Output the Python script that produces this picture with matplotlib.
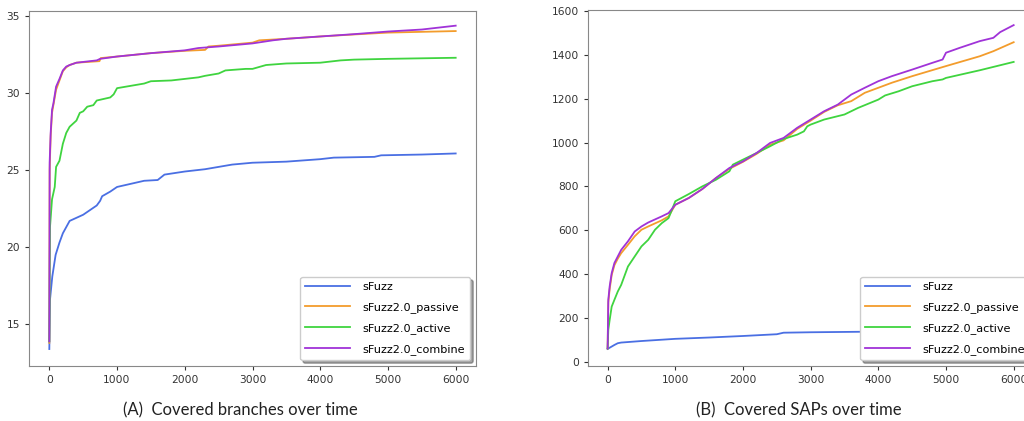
import matplotlib
matplotlib.use("Agg")
import matplotlib.pyplot as plt

# ── Data: (A) covered branches ────────────────────────────────────────────────
br_x_fuzz = [0, 10, 44, 93, 150, 200, 250, 300, 400, 500, 600, 700, 750, 780, 900,
             1000, 1200, 1400, 1600, 1700, 2000, 2300, 2500, 2700, 3000, 3500, 4000,
             4200, 4800, 4900, 5500, 6000]
br_y_fuzz = [13.4, 16.6, 18.1, 19.5, 20.3, 20.9, 21.3, 21.7, 21.9, 22.1, 22.4, 22.7,
             23.0, 23.3, 23.6, 23.9, 24.1, 24.3, 24.35, 24.7, 24.9, 25.05, 25.2, 25.35,
             25.47, 25.54, 25.7, 25.8, 25.85, 25.95, 26.0, 26.07]

br_x_active = [0, 10, 40, 80, 100, 150, 200, 250, 300, 350, 400, 450, 500, 560, 650,
               700, 800, 900, 950, 1000, 1200, 1400, 1500, 1800, 2000, 2200, 2300, 2500,
               2600, 2900, 3000, 3200, 3500, 4000, 4300, 4500, 5000, 6000]
br_y_active = [13.9, 21.3, 23.1, 23.9, 25.2, 25.6, 26.7, 27.4, 27.8, 28.0, 28.2, 28.7,
               28.8, 29.1, 29.2, 29.5, 29.6, 29.7, 29.9, 30.3, 30.45, 30.6, 30.75, 30.8,
               30.9, 31.0, 31.1, 31.25, 31.45, 31.55, 31.55, 31.8, 31.9, 31.95, 32.1,
               32.15, 32.2, 32.27]

br_x_combine = [0, 5, 20, 40, 60, 100, 150, 200, 250, 300, 400, 500, 700, 750, 1000,
                1500, 2000, 2200, 2500, 3000, 3300, 3500, 4000, 4500, 5000, 5500, 5800,
                6000]
br_y_combine = [13.9, 25.5, 27.4, 28.9, 29.3, 30.4, 30.9, 31.45, 31.7, 31.8, 31.95, 32.0,
                32.1, 32.2, 32.35, 32.57, 32.75, 32.9, 33.0, 33.2, 33.4, 33.5, 33.65,
                33.8, 33.97, 34.1, 34.25, 34.35]

br_x_passive = [0, 5, 20, 40, 60, 100, 150, 200, 250, 300, 400, 500, 740, 760, 1000,
                1500, 2000, 2300, 2350, 2500, 3000, 3100, 3500, 4000, 4500, 5000, 5500,
                6000]
br_y_passive = [13.8, 25.0, 27.2, 28.7, 29.2, 30.2, 30.8, 31.4, 31.65, 31.8, 31.95, 31.98,
                32.05, 32.25, 32.35, 32.57, 32.72, 32.78, 33.0, 33.05, 33.25, 33.4, 33.5,
                33.65, 33.78, 33.9, 33.95, 34.0]

# ── Data: (B) covered SAPs ────────────────────────────────────────────────────
sap_x_fuzz = [0, 100, 150, 200, 500, 1000, 1500, 2000, 2500, 2600, 3000, 4000, 5000, 6000]
sap_y_fuzz = [58, 76, 84, 87, 94, 104, 110, 117, 125, 132, 134, 137, 141, 145]

sap_x_combine = [0, 10, 30, 60, 100, 150, 200, 300, 400, 500, 600, 800, 900, 1000, 1200,
                 1400, 1600, 1800, 2000, 2200, 2400, 2600, 2800, 3000, 3200, 3400, 3600,
                 3800, 4000, 4200, 4500, 4800, 4950, 5000, 5200, 5500, 5700, 5800, 6000]
sap_y_combine = [60, 282, 343, 404, 450, 480, 510, 549, 594, 617, 635, 663, 678, 716, 747,
                 788, 838, 884, 914, 952, 998, 1021, 1067, 1105, 1143, 1173, 1219, 1250,
                 1280, 1303, 1333, 1364, 1379, 1410, 1432, 1463, 1478, 1504, 1536]

sap_x_passive = [0, 10, 30, 60, 100, 150, 200, 300, 400, 500, 600, 800, 900, 1000, 1200,
                 1400, 1600, 1800, 2000, 2200, 2400, 2600, 2800, 3000, 3200, 3400, 3600,
                 3800, 4000, 4200, 4500, 5000, 5500, 5700, 6000]
sap_y_passive = [60, 270, 330, 395, 440, 470, 495, 533, 572, 602, 617, 645, 663, 716, 747,
                 788, 838, 880, 912, 948, 990, 1010, 1062, 1100, 1140, 1170, 1189, 1227,
                 1250, 1273, 1303, 1349, 1394, 1417, 1458]

sap_x_active = [0, 10, 30, 60, 100, 150, 200, 300, 400, 500, 600, 700, 800, 900, 950,
                1000, 1200, 1400, 1600, 1800, 1850, 2000, 2200, 2400, 2600, 2800, 2900,
                2950, 3000, 3200, 3500, 3700, 4000, 4100, 4300, 4500, 4800, 4950, 5000,
                5500, 6000]
sap_y_active = [60, 145, 190, 251, 282, 320, 350, 434, 480, 526, 556, 602, 632, 655, 693,
                732, 765, 800, 830, 869, 899, 922, 952, 983, 1016, 1036, 1051, 1074, 1082,
                1105, 1128, 1158, 1196, 1215, 1234, 1257, 1280, 1288, 1295, 1330, 1368]

LABELS = ["sFuzz", "sFuzz2.0_passive", "sFuzz2.0_active", "sFuzz2.0_combine"]
COLORS = ["#4a6fe3", "#f39c2c", "#3fd43f", "#a033d8"]

TICK_FS = 7.7
W, H = 1024, 421


def _axes(fig, left, top, right, bottom):
    ax = fig.add_axes([left / W, 1 - bottom / H, (right - left) / W, (bottom - top) / H])
    ax.tick_params(labelsize=TICK_FS, colors="#333333", length=3)
    for spine in ax.spines.values():
        spine.set_color("#888888")
    return ax


def _draw(ax, series):
    for (xs, ys), label, color in zip(series, LABELS, COLORS):
        ax.plot(xs, ys, color=color, linewidth=1.3, label=label)
    ax.legend(loc="lower right", fontsize=8.1, shadow=True, framealpha=1,
              handlelength=4.0, labelspacing=0.9, borderpad=0.45, handletextpad=1.1,
              borderaxespad=0.5)


fig = plt.figure(figsize=(W / 100, H / 100), dpi=100)

ax1 = _axes(fig, 29, 11, 476, 366)
_draw(ax1, [(br_x_fuzz, br_y_fuzz), (br_x_passive, br_y_passive),
            (br_x_active, br_y_active), (br_x_combine, br_y_combine)])
ax1.set_xlim(-300, 6300)
ax1.set_ylim(12.3, 35.3)
ax1.set_xticks(range(0, 6001, 1000))
ax1.set_yticks([15, 20, 25, 30, 35])

ax2 = _axes(fig, 588, 10, 1036, 366)
_draw(ax2, [(sap_x_fuzz, sap_y_fuzz), (sap_x_passive, sap_y_passive),
            (sap_x_active, sap_y_active), (sap_x_combine, sap_y_combine)])
ax2.set_xlim(-290, 6330)
ax2.set_ylim(-20, 1605)
ax2.set_xticks(range(0, 6001, 1000))
ax2.set_yticks(range(0, 1601, 200))

fig.text(240 / W, 1 - 410 / H, "(A)  Covered branches over time", family="Lato",
         fontsize=12, ha="center", va="center", color="#222222")
fig.text(799 / W, 1 - 410 / H, "(B)  Covered SAPs over time", family="Lato",
         fontsize=12, ha="center", va="center", color="#222222")

fig.savefig("out.png", dpi=100)
